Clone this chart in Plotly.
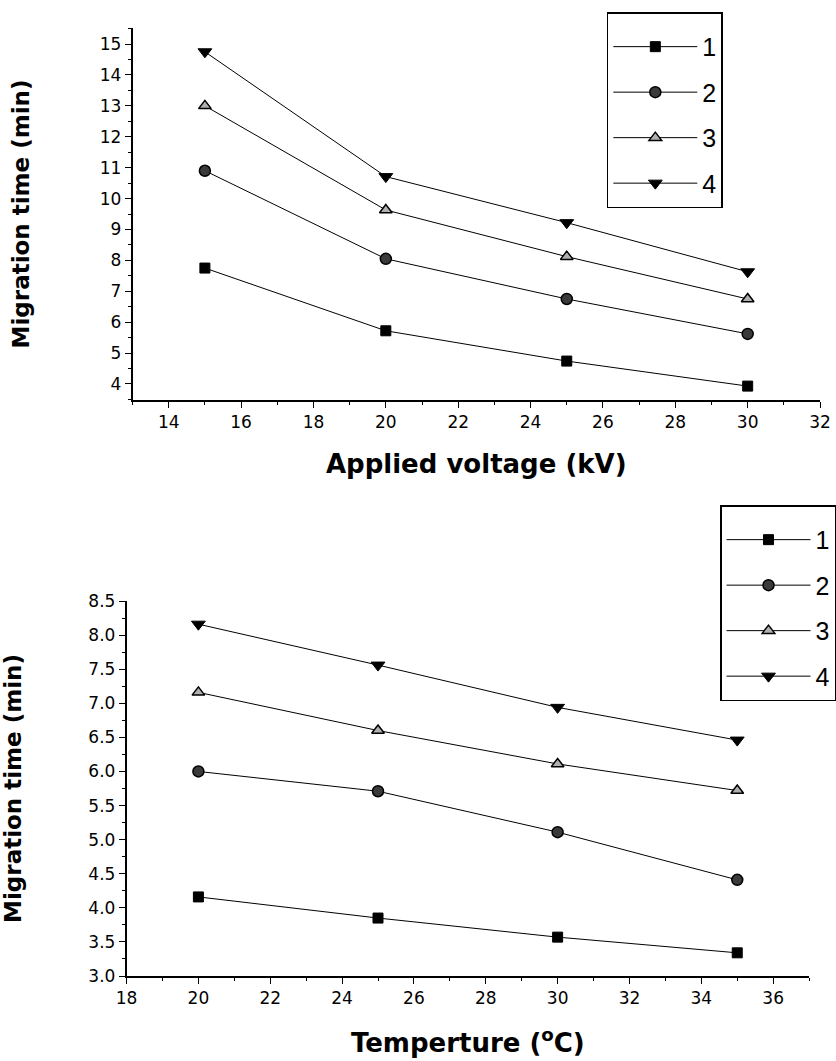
import plotly.graph_objects as go

# ---- data ----
series_names = ["1", "2", "3", "4"]

voltage_kv = [15, 20, 25, 30]
volt_s1 = [7.75, 5.72, 4.74, 3.93]
volt_s2 = [10.9, 8.05, 6.75, 5.62]
volt_s3 = [13.0, 9.63, 8.12, 6.75]
volt_s4 = [14.75, 10.71, 9.22, 7.63]

temperature_c = [20, 25, 30, 35]
temp_s1 = [4.16, 3.85, 3.57, 3.34]
temp_s2 = [6.0, 5.71, 5.11, 4.41]
temp_s3 = [7.16, 6.6, 6.11, 5.72]
temp_s4 = [8.16, 7.56, 6.94, 6.46]

# ---- styles ----
TICKFONT = "DejaVu Sans, Arial, sans-serif"
TITLEFONT = "DejaVu Sans, Arial, sans-serif"
LEGFONT = "Liberation Sans, Arial, sans-serif"
marker_styles = [
    dict(symbol="square", color="black", size=10, line=dict(color="black", width=1)),
    dict(symbol="circle", color="#3a3a3a", size=11, line=dict(color="black", width=1.5)),
    dict(symbol="triangle-up", color="#b0b0b0", size=11, line=dict(color="black", width=1.5)),
    dict(symbol="triangle-down", color="black", size=12, line=dict(color="black", width=1)),
]

fig = go.Figure()

volt_series = [volt_s1, volt_s2, volt_s3, volt_s4]
temp_series = [temp_s1, temp_s2, temp_s3, temp_s4]

for i, name in enumerate(series_names):
    fig.add_trace(go.Scatter(
        x=voltage_kv, y=volt_series[i], name=name, mode="lines+markers",
        line=dict(color="black", width=1), marker=marker_styles[i],
        xaxis="x", yaxis="y", legend="legend", legendgroup="a" + name,
    ))
for i, name in enumerate(series_names):
    fig.add_trace(go.Scatter(
        x=temperature_c, y=temp_series[i], name=name, mode="lines+markers",
        line=dict(color="black", width=1), marker=marker_styles[i],
        xaxis="x2", yaxis="y2", legend="legend2", legendgroup="b" + name,
    ))

W, H = 836, 1061

def axis_common():
    return dict(
        automargin=False,
        showgrid=False, zeroline=False, showline=True, linecolor="black", linewidth=1.5,
        ticks="outside", ticklen=6, tickwidth=1.2, tickcolor="black",
        tickfont=dict(family=TICKFONT, size=17, color="black"),
        minor=dict(ticks="outside", ticklen=3, tickwidth=1, tickcolor="black"),
    )

def title_font(size):
    return dict(family=TITLEFONT, size=size, color="black", weight="bold")

xa = axis_common(); xa.update(
    domain=[133 / W, 823 / W], range=[13, 32], dtick=2, tick0=0, minor_dtick=1,
    anchor="y",
    title=dict(text="Applied voltage (kV)", font=title_font(26), standoff=24),
)
ya = axis_common(); ya.update(
    domain=[(H - 400) / H, (H - 28) / H], range=[3.48, 15.52], dtick=1, tick0=0, minor_dtick=0.5,
    anchor="x",
    title=dict(text="Migration time (min)", font=title_font(23), standoff=64),
)
xa2 = axis_common(); xa2.update(
    domain=[127 / W, 812 / W], range=[18, 37], dtick=2, tick0=0, minor_dtick=1,
    anchor="y2",
    title=dict(text="Temperture (<sup>o</sup>C)", font=title_font(26), standoff=27),
)
ya2 = axis_common(); ya2.update(
    domain=[(H - 976) / H, (H - 601) / H], range=[3.0, 8.5], dtick=0.5, tick0=0, minor_dtick=0.25,
    anchor="x2", tickformat=".1f",
    title=dict(text="Migration time (min)", font=title_font(23), standoff=64),
)

legend_common = dict(
    bgcolor="white", bordercolor="black", borderwidth=1.5,
    font=dict(family=LEGFONT, size=25, color="black"),
    title=dict(text=" ", font=dict(size=8)),
    itemwidth=84, tracegroupgap=10, xanchor="left", yanchor="top",
)

fig.update_layout(
    template="none",
    width=W, height=H,
    margin=dict(l=0, r=0, t=0, b=0),
    paper_bgcolor="white", plot_bgcolor="white",
    xaxis=xa, yaxis=ya, xaxis2=xa2, yaxis2=ya2,
    legend=dict(**legend_common, x=609 / W, y=(H - 12) / H),
    legend2=dict(**legend_common, x=723 / W, y=(H - 505) / H),
    showlegend=True,
)

fig.write_html(
    "out.html",
    config={"displayModeBar": False},
    post_script="document.body.style.margin='0';document.body.style.overflow='hidden';",
)
